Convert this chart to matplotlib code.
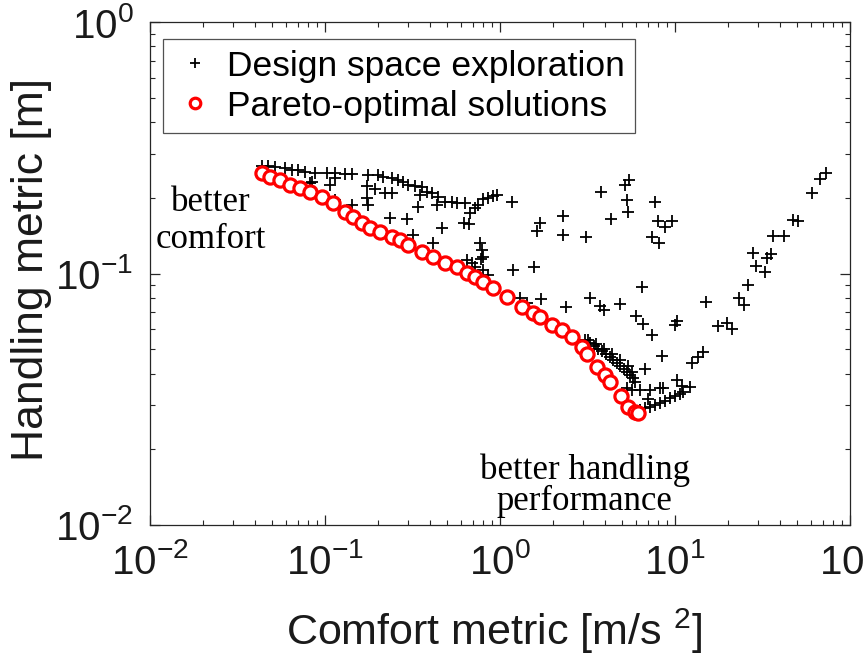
import matplotlib
matplotlib.use("Agg")
import math
import matplotlib.pyplot as plt
from matplotlib.ticker import LogLocator, FuncFormatter, NullFormatter

plt.rcParams["font.family"] = ["Liberation Sans", "DejaVu Sans"]
plt.rcParams["mathtext.fontset"] = "custom"
plt.rcParams["mathtext.rm"] = "Liberation Sans"
plt.rcParams["mathtext.it"] = "Liberation Sans"
plt.rcParams["mathtext.bf"] = "Liberation Sans"
plt.rcParams["mathtext.default"] = "regular"

# ---------------- data ----------------
design_x = [0.0437, 0.0472, 0.0518, 0.0591, 0.0648, 0.0701, 0.0768, 0.0877, 0.1026, 0.114,
            0.130, 0.143, 0.176, 0.201, 0.214, 0.241, 0.261, 0.279, 0.298, 0.327,
            0.358, 0.383, 0.409, 0.443, 0.485, 0.532, 0.568, 0.631, 0.674, 0.720,
            0.748, 0.800, 0.854, 0.912, 0.961, 1.17, 0.622, 0.665,
            0.0843, 0.107, 0.114, 0.0821, 0.174, 0.193, 0.220, 0.241, 0.174, 0.176,
            0.143, 0.114, 0.349, 0.340, 0.437, 0.235, 0.294, 0.466, 0.318, 0.414,
            0.769, 0.789, 0.800, 0.778, 0.648, 0.692, 0.720, 0.800, 0.854, 1.19,
            1.56, 1.30, 1.43, 1.71, 1.69, 1.63, 2.29, 2.29, 3.10, 3.78,
            4.31, 5.18, 5.46, 5.32, 5.38, 7.69, 8.00, 8.77, 9.61, 7.39,
            8.11, 6.48, 2.38, 3.27, 3.73, 3.93, 4.85, 5.98, 6.56, 7.39,
            8.43, 10.0, 10.3, 15.0, 17.6, 19.8, 21.2, 12.5, 13.5, 14.5,
            6.74, 10.3, 11.0, 12.2,
            23.2, 24.8, 26.1, 27.9, 29.0, 32.7, 33.6, 35.4, 36.3, 42.0,
            47.2, 50.5, 60.7, 67.4, 72.9,
            3.06, 3.27, 3.44, 3.63, 3.83, 4.03, 4.25, 4.43, 4.67, 4.85,
            5.12, 5.32, 5.53, 5.75, 5.91, 3.18, 3.54, 3.93, 4.37, 4.85,
            5.38, 5.68,
            5.32, 5.68, 6.31, 7.20, 8.21, 8.53, 7.01,
            6.31, 6.74, 7.20, 7.69, 8.21, 8.77, 9.36, 10.0, 10.7, 11.1]
design_y = [0.268, 0.268, 0.265, 0.263, 0.258, 0.258, 0.253, 0.251, 0.251, 0.251,
            0.249, 0.249, 0.246, 0.246, 0.242, 0.240, 0.235, 0.231, 0.225, 0.223,
            0.221, 0.211, 0.209, 0.201, 0.192, 0.192, 0.191, 0.191, 0.174, 0.182,
            0.187, 0.198, 0.1995, 0.203, 0.205, 0.192, 0.159, 0.157,
            0.231, 0.225, 0.240, 0.229, 0.223, 0.217, 0.209, 0.209, 0.1995, 0.187,
            0.187, 0.196, 0.205, 0.184, 0.187, 0.166, 0.165, 0.152, 0.142, 0.132,
            0.132, 0.124, 0.1164, 0.1142, 0.1132, 0.110, 0.106, 0.1033, 0.0986, 0.1033,
            0.106, 0.080, 0.0764, 0.0792, 0.159, 0.1476, 0.169, 0.142, 0.1397, 0.211,
            0.165, 0.225, 0.235, 0.196, 0.176, 0.192, 0.162, 0.153, 0.162, 0.1397,
            0.132, 0.0883, 0.0736, 0.080, 0.0743, 0.0716, 0.0757, 0.0677, 0.063, 0.0569,
            0.047, 0.0624, 0.0647, 0.0771, 0.0618, 0.0636, 0.0601, 0.0441, 0.0466, 0.0488,
            0.0417, 0.0377, 0.0357, 0.0354,
            0.080, 0.075, 0.090, 0.1207, 0.107, 0.1014, 0.1153, 0.1196, 0.141, 0.141,
            0.163, 0.162, 0.209, 0.2375, 0.251,
            0.0545, 0.053, 0.0515, 0.0501, 0.0492, 0.0479, 0.0466, 0.0453, 0.0441, 0.0429,
            0.0417, 0.0406, 0.0395, 0.0384, 0.0371, 0.0545, 0.0525, 0.0501, 0.0479, 0.0453,
            0.0429, 0.0406,
            0.0351, 0.0344, 0.0344, 0.0344, 0.0351, 0.0351, 0.0317,
            0.0287, 0.0292, 0.0295, 0.030, 0.0305, 0.0311, 0.032, 0.0326, 0.0332, 0.0338]

pareto_x = [0.0437, 0.0485, 0.0553, 0.0631, 0.0720, 0.0821, 0.0961, 0.111, 0.130, 0.145,
            0.163, 0.181, 0.206, 0.241, 0.268, 0.298, 0.358, 0.414, 0.485, 0.568,
            0.648, 0.720, 0.800, 0.912, 1.10, 1.34, 1.54, 1.69, 1.98, 2.26,
            2.58, 2.94, 3.14, 3.58, 3.98, 4.25, 4.91, 5.38, 5.91, 6.15]
pareto_y = [0.251, 0.242, 0.235, 0.225, 0.219, 0.211, 0.201, 0.191, 0.176, 0.168,
            0.159, 0.152, 0.146, 0.140, 0.136, 0.130, 0.122, 0.116, 0.110, 0.106,
            0.1005, 0.0969, 0.0925, 0.0875, 0.0807, 0.0736, 0.0697, 0.0671, 0.0624, 0.0596,
            0.0559, 0.0510, 0.0479, 0.0425, 0.0395, 0.0371, 0.0326, 0.0295, 0.0281, 0.0279]

series_labels = ["Design space exploration", "Pareto-optimal solutions"]
x_label = "Comfort metric [m/s $^{2}$]"
y_label = "Handling metric [m]"
x_limits = (1e-2, 1e2)
y_limits = (1e-2, 1e0)

# ---------------- figure ----------------
fig = plt.figure(figsize=(8.63, 6.62), dpi=100)
ax = fig.add_axes([150 / 863, 137 / 662, 700 / 863, 503 / 662])
ax.set_xscale("log")
ax.set_yscale("log")
ax.set_xlim(*x_limits)
ax.set_ylim(*y_limits)

ax.plot(design_x, design_y, linestyle="none", marker="+", markersize=9,
        markeredgewidth=1.3, color="black", label=series_labels[0], zorder=2)
ax.plot(pareto_x, pareto_y, linestyle="none", marker="o", markersize=9.5,
        markeredgewidth=2.3, markeredgecolor="red", markerfacecolor="white",
        label=series_labels[1], zorder=3)

axis_col = "#262626"
for s in ax.spines.values():
    s.set_color(axis_col)
    s.set_linewidth(0.9)

ax.xaxis.set_major_locator(LogLocator(base=10, numticks=10))
ax.yaxis.set_major_locator(LogLocator(base=10, numticks=10))
ax.xaxis.set_minor_locator(LogLocator(base=10, subs=range(2, 10), numticks=20))
ax.yaxis.set_minor_locator(LogLocator(base=10, subs=range(2, 10), numticks=20))
ax.xaxis.set_minor_formatter(NullFormatter())
ax.yaxis.set_minor_formatter(NullFormatter())


def fmt(v, pos):
    e = int(round(math.log10(v)))
    return "$10^{%d}$" % e


ax.xaxis.set_major_formatter(FuncFormatter(fmt))
ax.yaxis.set_major_formatter(FuncFormatter(fmt))
ax.tick_params(which="both", direction="in", top=True, right=True, colors=axis_col,
               labelcolor="#1a1a1a")
ax.tick_params(which="major", length=7, width=0.9, labelsize=29)
ax.tick_params(which="minor", length=3.5, width=0.8)
ax.tick_params(axis="x", which="major", pad=13)
ax.tick_params(axis="y", which="major", pad=12)

ax.set_xlabel(x_label, fontsize=31, color="#1a1a1a")
ax.xaxis.set_label_coords(0.491, -0.162)
ax.set_ylabel(y_label, fontsize=32, color="#1a1a1a")
ax.yaxis.set_label_coords(-0.14, 0.507)

leg = ax.legend(loc="upper left", bbox_to_anchor=(13 / 700, 1 - 17 / 503),
                fontsize=25.5, frameon=True, fancybox=False, edgecolor=axis_col,
                handlelength=1.2, handletextpad=0.3, borderpad=0.3,
                labelspacing=0.2, borderaxespad=0, markerscale=0.8)
leg.get_frame().set_linewidth(0.9)

serif = ["Liberation Serif", "DejaVu Serif"]
ax.text(0.087, 0.624, "better", transform=ax.transAxes, ha="center", va="baseline",
        fontsize=25, family=serif)
ax.text(0.087, 0.551, "comfort", transform=ax.transAxes, ha="center", va="baseline",
        fontsize=25, family=serif)
ax.text(0.621, 0.0915, "better handling", transform=ax.transAxes, ha="center",
        va="baseline", fontsize=25, family=serif)
ax.text(0.621, 0.030, "performance", transform=ax.transAxes, ha="center",
        va="baseline", fontsize=25, family=serif)

fig.savefig("out.png", dpi=100)
